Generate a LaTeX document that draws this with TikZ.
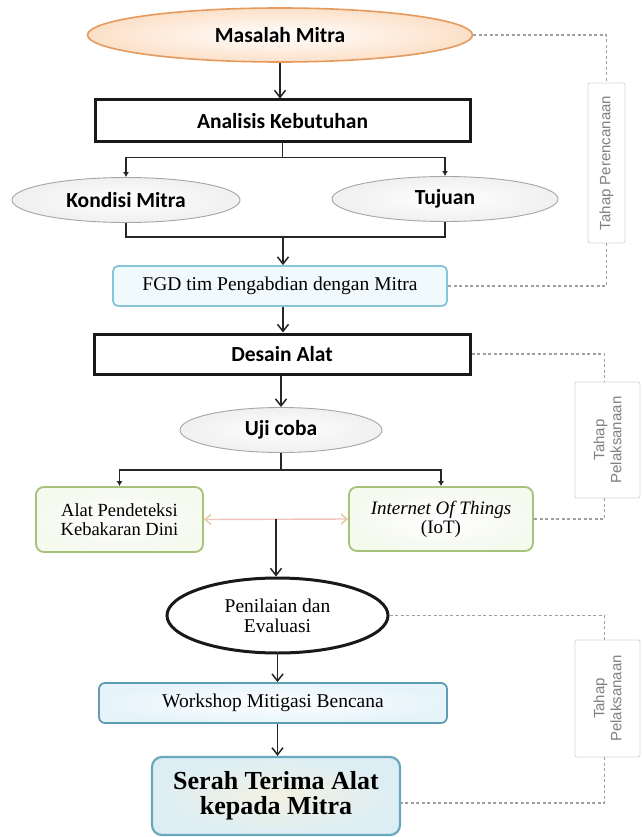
\documentclass[tikz,border=0pt]{standalone}
\usepackage{fontspec}
\setmainfont{Liberation Serif}
\newfontfamily\calfont{Carlito}
\newfontfamily\arialfont{Liberation Sans}
\usetikzlibrary{shapes.geometric,arrows.meta}
\definecolor{orangeline}{HTML}{E59A5E}
\definecolor{peach}{HTML}{FCE0C8}
\definecolor{fgdline}{HTML}{86C5D8}
\definecolor{fgdfill}{HTML}{F0F9FC}
\definecolor{greenline}{HTML}{A6C27A}
\definecolor{greenfill}{HTML}{F5F9EE}
\definecolor{wsline}{HTML}{5E9DB3}
\definecolor{wsfill}{HTML}{E6F4FA}
\definecolor{serahline}{HTML}{6AA8BE}
\definecolor{serahin}{HTML}{F3F1E2}
\definecolor{serahout}{HTML}{DCEEF4}
\definecolor{pinkline}{HTML}{F0C2BC}
\definecolor{tanhead}{HTML}{E2C9A4}
\definecolor{tahaptext}{HTML}{808080}
\begin{document}
\begin{tikzpicture}[x=1pt,y=-1pt,
  sansb/.style={font=\calfont\bfseries\fontsize{21.5}{24}\selectfont},
  serifr/.style={font=\fontsize{19.5}{20}\selectfont},
  blackbox/.style={draw=black!90,line width=3pt,fill=white,rectangle,inner sep=0pt,sansb},
  grayell/.style={ellipse,draw=gray!70,line width=0.9pt,inner color=white,outer color=gray!12,inner sep=0pt,sansb},
  greenbox/.style={rectangle,rounded corners=8pt,draw=greenline,line width=1.8pt,
     inner color=white,outer color=greenfill,inner sep=0pt,align=center,font=\fontsize{18.5}{19}\selectfont},
  tahapbox/.style={rectangle,rounded corners=2pt,draw=gray!30,line width=0.9pt,fill=white,
     inner sep=0pt,rotate=90,align=center,text=tahaptext,font=\arialfont\fontsize{15}{17}\selectfont},
  arr/.style={draw=black!85,line width=1.8pt,-{Straight Barb[length=7pt,width=11pt,line width=1.5pt]}},
  fork/.style={draw=black!85,line width=1.8pt,-{Latex[length=5pt,width=6pt]}},
  plainline/.style={draw=black!85,line width=1.8pt},
  dashline/.style={draw=gray!75,line width=1.1pt,dash pattern=on 3pt off 2.5pt},
  dbl/.style={draw=pinkline,line width=1.4pt,{Straight Barb[length=6pt,width=10pt,color=tanhead]}-{Straight Barb[length=6pt,width=10pt,color=tanhead]}}
]
\useasboundingbox (0,0) rectangle (641,837);
\fill[white] (0,0) rectangle (641,837);

% nodes
\node[ellipse,draw=orangeline,line width=1.6pt,inner color=white,outer color=peach,
      minimum width=385pt,minimum height=54pt,inner sep=0pt,sansb] (masalah) at (280,35) {Masalah Mitra};
\node[blackbox,minimum width=375pt,minimum height=42pt] (analisis) at (282.5,121) {Analisis Kebutuhan};
\node[grayell,minimum width=228pt,minimum height=45pt] (kondisi) at (126,200) {Kondisi Mitra};
\node[grayell,minimum width=226pt,minimum height=45pt] (tujuan) at (445,199) {Tujuan};
\node[rectangle,rounded corners=5pt,draw=fgdline,line width=1.8pt,fill=fgdfill,
      minimum width=334pt,minimum height=40pt,inner sep=0pt,serifr] (fgd) at (280,286) {FGD tim Pengabdian dengan Mitra};
\node[blackbox,minimum width=376pt,minimum height=40pt] (desain) at (282,354) {Desain Alat};
\node[grayell,minimum width=202pt,minimum height=45pt] (uji) at (281,430) {Uji coba};
\node[greenbox,minimum width=167pt,minimum height=65pt] (alat) at (119.5,519.5) {Alat Pendeteksi\\Kebakaran Dini};
\node[greenbox,minimum width=184pt,minimum height=64pt,font=\fontsize{19}{19}\selectfont] (iot) at (441,519) {\textit{Internet Of Things}\\(IoT)};
\node[ellipse,draw=black!90,line width=3pt,fill=white,minimum width=221pt,minimum height=75pt,
      inner sep=0pt,align=center,font=\fontsize{19.5}{20}\selectfont] (penilaian) at (277.5,615.5) {Penilaian dan\\Evaluasi};
\node[rectangle,rounded corners=6pt,draw=wsline,line width=1.8pt,inner color=white,outer color=wsfill,
      minimum width=348pt,minimum height=40pt,inner sep=0pt,serifr] (workshop) at (273,703) {Workshop Mitigasi Bencana};
\node[rectangle,rounded corners=10pt,draw=serahline,line width=2.2pt,inner color=serahin,outer color=serahout,
      minimum width=248pt,minimum height=78pt,inner sep=0pt,align=center,
      font=\bfseries\fontsize{26}{25}\selectfont] (serah) at (276,796) {Serah Terima Alat\\kepada Mitra};

\node[tahapbox,minimum width=160pt,minimum height=37pt] (tahap1) at (606.5,163) {Tahap Perencanaan};
\node[tahapbox,minimum width=116pt,minimum height=65pt] (tahap2) at (607.5,440) {Tahap\\Pelaksanaan};
\node[tahapbox,minimum width=117pt,minimum height=65pt] (tahap3) at (607.5,698.5) {Tahap\\Pelaksanaan};

% main connectors
\draw[arr] (masalah.south) -- (masalah.south |- analisis.north);
\draw[fork] (analisis.south) -- ++(0,14) -| (kondisi.north);
\draw[fork] (analisis.south) -- ++(0,14) -| (tujuan.north);
\coordinate (j2) at (283,237);
\draw[plainline] (kondisi.south) |- (j2) -| (tujuan.south);
\draw[arr] (j2) -- (j2 |- fgd.north);
\draw[arr] (fgd.south -| j2) -- (j2 |- desain.north);
\draw[arr] (desain.south -| uji.north) -- (uji.north);
\draw[fork] (uji.south) -- ++(0,17) -| (alat.north);
\draw[fork] (uji.south) -- ++(0,17) -| (iot.north);
\draw[dbl] (alat.east) -- (iot.west);
\path (alat.east) -- (iot.west) coordinate[pos=0.5] (mid);
\draw[arr] (mid) -- (mid |- penilaian.north);
\draw[arr] (penilaian.south) -- (penilaian.south |- workshop.north);
\draw[arr] (workshop.south -| penilaian.south) -- (penilaian.south |- serah.north);

% dashed phase connectors
\draw[dashline] (masalah.east) -| (tahap1.east);
\draw[dashline] (tahap1.west) |- (fgd.east);
\draw[dashline] (desain.east) -| ([xshift=-3pt]tahap2.east);
\draw[dashline] ([xshift=-3pt]tahap2.west) |- (iot.east);
\draw[dashline] (penilaian.east) -| ([xshift=-3pt]tahap3.east);
\draw[dashline] ([xshift=-3pt]tahap3.west) |- ([yshift=-7pt]serah.east);
\end{tikzpicture}
\end{document}
